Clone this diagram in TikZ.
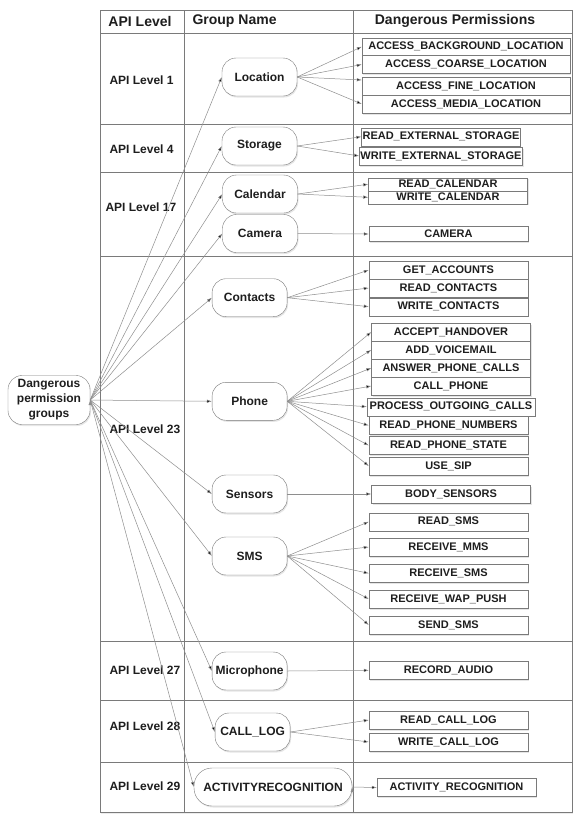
\documentclass[tikz,border=0pt]{standalone}
\usepackage{fontspec}
\setmainfont{Liberation Sans}
\usepackage{xcolor}
\usetikzlibrary{arrows.meta, positioning, shadows}

\definecolor{linegray}{HTML}{7A7A7A}
\definecolor{arrowgray}{HTML}{8E8E8E}
\definecolor{textdark}{HTML}{1E1E1E}

\begin{document}
\begin{tikzpicture}[x=1pt,y=-1pt,>={Latex[length=5pt,width=3.4pt]}]
    \tikzstyle{root}=[shape=rectangle,rounded corners=14pt,draw=linegray,fill=white,minimum width=82pt,minimum height=49pt,inner sep=2pt,align=center,font=\fontsize{12}{15}\selectfont\bfseries,text=textdark,drop shadow={opacity=0.2,shadow xshift=1pt,shadow yshift=-1.5pt}]
    \tikzstyle{group}=[shape=rectangle,rounded corners=14pt,draw=linegray,fill=white,minimum width=75pt,minimum height=38pt,inner sep=2pt,font=\fontsize{12}{14}\selectfont\bfseries,text=textdark,drop shadow={opacity=0.2,shadow xshift=1pt,shadow yshift=-1.5pt}]
    \tikzstyle{perm}=[shape=rectangle,draw=linegray,fill=white,minimum width=159pt,minimum height=18pt,inner xsep=1pt,inner ysep=0pt,font=\fontsize{11}{13}\selectfont\bfseries,text=textdark,drop shadow={opacity=0.2,shadow xshift=1pt,shadow yshift=-1.5pt}]
    \tikzstyle{level}=[anchor=west,font=\fontsize{12}{14}\selectfont\bfseries,text=textdark]
    \tikzstyle{head}=[font=\fontsize{14}{16}\selectfont\bfseries,text=textdark]
    \tikzstyle{link}=[->,draw=arrowgray,line width=0.5pt]

    \useasboundingbox (0,0) rectangle (584,820);

    % table
    \draw[linegray,line width=0.7pt,fill=white,drop shadow={opacity=0.15,shadow xshift=1pt,shadow yshift=-2pt}] (100,10) rectangle (572,812);
    \foreach \y in {33,124,172,256,641,700,762}
        \draw[linegray,line width=0.7pt] (100,\y) -- (572,\y);
    \draw[linegray,line width=0.7pt] (184,10) -- (184,812);
    \draw[linegray,line width=0.7pt] (353,10) -- (353,812);

    \node[head] (hlevel) at (140,21) {API Level};
    \node[head, anchor=west] (hgroup) at (189,21) {Group Name};
    \node[head] (hperm) at (455,21) {Dangerous Permissions};

    \node[level] (lv1) at (106,80) {API Level 1};
    \node[level] (lv4) at (106,149) {API Level 4};
    \node[level] (lv17) at (102,207) {API Level 17};
    \node[level] (lv23) at (106,429) {API Level 23};
    \node[level] (lv27) at (106,670) {API Level 27};
    \node[level] (lv28) at (106,726) {API Level 28};
    \node[level] (lv29) at (106,786) {API Level 29};

    % groups
    \node[root] (root) at (49,400) {Dangerous\\permission\\groups};
    \node[group] (loc) at (259.5,77) {Location};
    \node[group] (sto) at (259.5,146) {Storage};
    \node[group] (cal) at (260,194) {Calendar};
    \node[group] (cam) at (260,233.5) {Camera};
    \node[group] (con) at (249.6,297.7) {Contacts};
    \node[group] (pho) at (249.6,401.3) {Phone};
    \node[group] (sen) at (249.6,494) {Sensors};
    \node[group] (sms) at (249.6,556) {SMS};
    \node[group] (mic) at (249.6,671) {Microphone};
    \node[group] (clog) at (252.6,732) {CALL\_LOG};
    \node[group, minimum width=158pt, rounded corners=18pt] (act) at (273,787) {ACTIVITYRECOGNITION};

    % permissions
    \node[perm, minimum width=208pt] (bg) at (466,46.7) {ACCESS\_BACKGROUND\_LOCATION};
    \node[perm, minimum width=208pt] (coarse) at (466,64.5) {ACCESS\_COARSE\_LOCATION};
    \node[perm, minimum width=208pt] (fine) at (466,86) {ACCESS\_FINE\_LOCATION};
    \node[perm, minimum width=208pt] (media) at (466,104) {ACCESS\_MEDIA\_LOCATION};
    \node[perm, minimum width=158pt] (rext) at (441,136.7) {READ\_EXTERNAL\_STORAGE};
    \node[perm, minimum width=158pt] (wext) at (441,156) {WRITE\_EXTERNAL\_STORAGE};
    \node[perm, minimum height=13pt] (rcal) at (448,184.2) {READ\_CALENDAR};
    \node[perm, minimum height=13pt] (wcal) at (448,197.3) {WRITE\_CALENDAR};
    \node[perm, minimum height=15pt] (camera) at (448.5,234) {CAMERA};
    \node[perm] (getacc) at (448.5,270) {GET\_ACCOUNTS};
    \node[perm] (rcon) at (448.5,288) {READ\_CONTACTS};
    \node[perm] (wcon) at (448.5,306.7) {WRITE\_CONTACTS};
    \node[perm] (accept) at (451,332) {ACCEPT\_HANDOVER};
    \node[perm] (voice) at (451,350) {ADD\_VOICEMAIL};
    \node[perm] (answer) at (451,368) {ANSWER\_PHONE\_CALLS};
    \node[perm] (callph) at (451,386) {CALL\_PHONE};
    \node[perm, minimum width=168pt] (process) at (451,406.7) {PROCESS\_OUTGOING\_CALLS};
    \node[perm] (rnum) at (448.5,425.5) {READ\_PHONE\_NUMBERS};
    \node[perm] (rstate) at (448.5,445.5) {READ\_PHONE\_STATE};
    \node[perm] (sip) at (448.5,466) {USE\_SIP};
    \node[perm] (body) at (451,494) {BODY\_SENSORS};
    \node[perm] (rsms) at (448.5,521.7) {READ\_SMS};
    \node[perm] (rmms) at (448.5,547) {RECEIVE\_MMS};
    \node[perm] (recsms) at (448.5,573.3) {RECEIVE\_SMS};
    \node[perm] (wap) at (448.5,599) {RECEIVE\_WAP\_PUSH};
    \node[perm] (send) at (448.5,625) {SEND\_SMS};
    \node[perm] (audio) at (448.5,670.3) {RECORD\_AUDIO};
    \node[perm] (rlog) at (448.5,720) {READ\_CALL\_LOG};
    \node[perm] (wlog) at (448.5,742) {WRITE\_CALL\_LOG};
    \node[perm] (actrec) at (456.5,787.5) {ACTIVITY\_RECOGNITION};

    \path[link]
    (root.east) edge (loc.west)
    (root.east) edge (sto.west)
    (root.east) edge (cal.west)
    (root.east) edge (cam.west)
    (root.east) edge (con.west)
    (root.east) edge (pho.west)
    (root.east) edge (sen.west)
    (root.east) edge (sms.west)
    (root.east) edge (mic.west)
    (root.east) edge (clog.west)
    (root.east) edge (act.west)
    ;

    \path[link]
    (loc.east) edge (bg.west)
    (loc.east) edge (coarse.west)
    (loc.east) edge ([yshift=6pt]fine.west)
    (loc.east) edge (media.west)
    (sto.east) edge (rext.west)
    (sto.east) edge (wext.west)
    (cal.east) edge (rcal.west)
    (cal.east) edge (wcal.west)
    (cam.east) edge (camera.west)
    (con.east) edge (getacc.west)
    (con.east) edge (rcon.west)
    (con.east) edge (wcon.west)
    (pho.east) edge (accept.west)
    (pho.east) edge (voice.west)
    (pho.east) edge (answer.west)
    (pho.east) edge (callph.west)
    (pho.east) edge (process.west)
    (pho.east) edge (rnum.west)
    (pho.east) edge (rstate.west)
    (pho.east) edge (sip.west)
    (sen.east) edge (body.west)
    (sms.east) edge (rsms.west)
    (sms.east) edge (rmms.west)
    (sms.east) edge (recsms.west)
    (sms.east) edge (wap.west)
    (sms.east) edge (send.west)
    (mic.east) edge (audio.west)
    (clog.east) edge (rlog.west)
    (clog.east) edge (wlog.west)
    (act.east) edge (actrec.west)
    ;
\end{tikzpicture}
\end{document}
